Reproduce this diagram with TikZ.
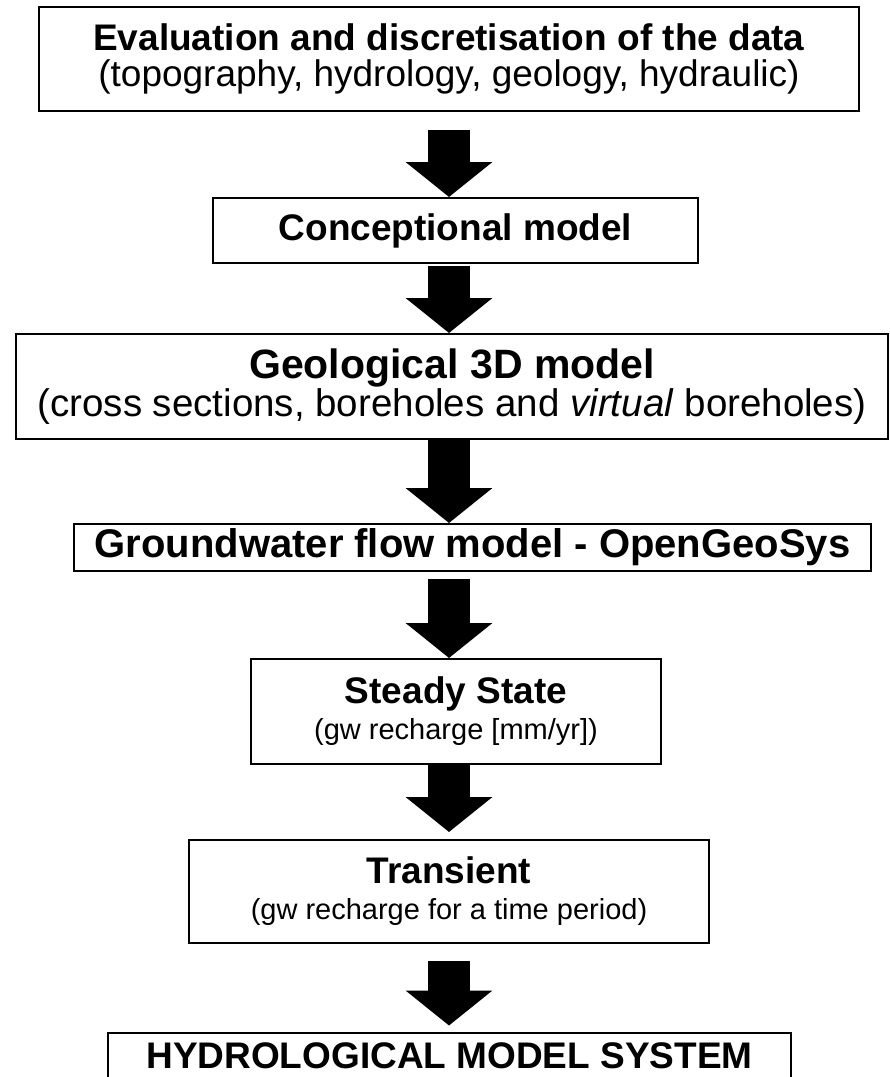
\documentclass[tikz,border=0pt]{standalone}
\usepackage{fontspec}
\setmainfont{Liberation Sans}
\usetikzlibrary{arrows.meta,positioning}

\begin{document}
\begin{tikzpicture}[x=1pt,y=1pt]
  \tikzset{stage/.style = {shape=rectangle,draw,line width=2pt,inner sep=0pt,align=center,font=\fontsize{37}{36}\selectfont}}
  \tikzset{flow/.style = {line width=42pt,-{Triangle[length=35pt,width=85pt]}}}
  \clip (0,0) rectangle (890,-1077);

  \coordinate (spine) at (449,0);

  \node[stage,minimum width=820pt,minimum height=104pt] (eval) at (449,-59)
    {\textbf{Evaluation and discretisation of the data}\\(topography, hydrology, geology, hydraulic)};
  \node[stage,minimum width=485pt,minimum height=65pt] (concept) at (455.5,-230.5)
    {\textbf{Conceptional model}};
  \node[stage,minimum width=872pt,minimum height=105pt,font=\fontsize{38.5}{38}\selectfont] (geo) at (452,-386.5)
    {{\fontsize{41}{38}\selectfont\textbf{Geological 3D model}}\\(cross sections, boreholes and \textit{virtual} boreholes)};
  \node[stage,minimum width=797pt,minimum height=47pt,font=\fontsize{40}{38}\selectfont] (gwflow) at (472.5,-547.5)
    {\textbf{Groundwater flow model - OpenGeoSys}};
  \node[stage,minimum width=410pt,minimum height=105pt] (steady) at (456,-711.5)
    {\textbf{Steady State}\\{\fontsize{29}{36}\selectfont(gw recharge [mm/yr])}};
  \node[stage,minimum width=520pt,minimum height=103pt] (trans) at (449,-891.5)
    {\textbf{Transient}\\{\fontsize{29}{36}\selectfont(gw recharge for a time period)}};
  \node[stage,minimum width=683pt,minimum height=47pt] (hms) at (449.5,-1056)
    {\textbf{HYDROLOGICAL MODEL SYSTEM}};

  % block arrows between the stages
  \draw[flow,shorten <=18pt] (eval.south -| spine) -- (concept.north -| spine);
  \draw[flow,shorten <=2pt] (concept.south -| spine) -- (geo.north -| spine);
  \draw[flow] (geo.south -| spine) -- (gwflow.north -| spine);
  \draw[flow,shorten <=7pt] (gwflow.south -| spine) -- (steady.north -| spine);
  \draw[flow,shorten >=7pt] (steady.south -| spine) -- (trans.north -| spine);
  \draw[flow,shorten <=17pt,shorten >=6pt] (trans.south -| spine) -- (hms.north -| spine);
\end{tikzpicture}
\end{document}
